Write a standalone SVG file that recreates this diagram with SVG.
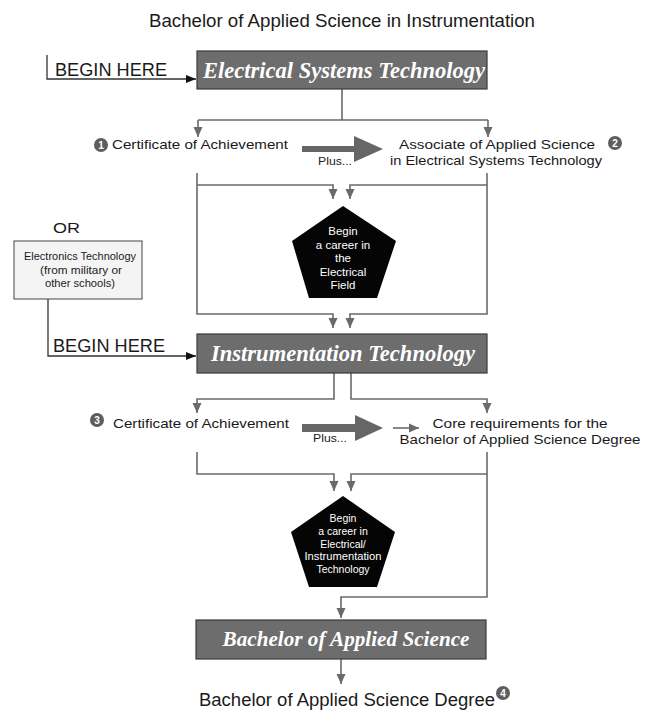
<svg xmlns="http://www.w3.org/2000/svg" width="648" height="710" viewBox="0 0 648 710">
<style>
.t{font-family:"Liberation Sans",Arial,sans-serif;fill:#1a1a1a}
.bx{fill:#6d6d6d;stroke:#3a3a3a;stroke-width:1.2}
.bt{font-family:"Liberation Serif","Times New Roman",serif;font-style:italic;font-weight:bold;fill:#fff}
.pg{fill:#050505}
.pt{font-family:"Liberation Sans",Arial,sans-serif;fill:#fff;font-size:11.5px;text-anchor:middle}
.pt2{font-family:"Liberation Sans",Arial,sans-serif;fill:#fff;font-size:10.5px;text-anchor:middle}
.ln{fill:none;stroke:#6a6a6a;stroke-width:1.6}
.lk{fill:none;stroke:#333;stroke-width:1.3}
.num{fill:#5e5e5e}
.nt{font-family:"Liberation Sans",Arial,sans-serif;font-weight:bold;font-size:10px;fill:#fff;text-anchor:middle}
.big{fill:#666}
</style>
<defs>
<marker id="ag" markerUnits="userSpaceOnUse" markerWidth="12" markerHeight="12" viewBox="0 0 12 12" refX="11" refY="6" orient="auto">
<path d="M1,1.5 L11,6 L1,10.5 Z" fill="#6a6a6a"/>
</marker>
<marker id="ak" markerUnits="userSpaceOnUse" markerWidth="12" markerHeight="12" viewBox="0 0 12 12" refX="11" refY="6" orient="auto">
<path d="M1,2 L11,6 L1,10 Z" fill="#111"/>
</marker>
</defs>

<text class="t" x="342" y="27" font-size="17.5" text-anchor="middle" textLength="386" lengthAdjust="spacingAndGlyphs">Bachelor of Applied Science in Instrumentation</text>

<g id="connectors">
<path class="lk" d="M47,55 V79 H196" marker-end="url(#ak)"/>
<path class="ln" d="M342,89 V120"/>
<path class="ln" d="M198,120 H488"/>
<path class="ln" d="M198,120 V137" marker-end="url(#ag)"/>
<path class="ln" d="M488,120 V137" marker-end="url(#ag)"/>
<path class="ln" d="M197,173 V314 H333 V328" marker-end="url(#ag)"/>
<path class="ln" d="M197,185 H333 V199" marker-end="url(#ag)"/>
<path class="ln" d="M487,173 V314 H350 V328" marker-end="url(#ag)"/>
<path class="ln" d="M487,185 H350 V199" marker-end="url(#ag)"/>
<path class="lk" d="M48,299 V356 H196" marker-end="url(#ak)"/>
<path class="ln" d="M334,373 V399 H197 V413" marker-end="url(#ag)"/>
<path class="ln" d="M351,373 V399 H487 V413" marker-end="url(#ag)"/>
<path class="ln" d="M393,428 H419" marker-end="url(#ag)"/>
<path class="ln" d="M197,452 V474 H334 V491" marker-end="url(#ag)"/>
<path class="ln" d="M487,452 V597 H341 V618" marker-end="url(#ag)"/>
<path class="ln" d="M487,474 H351 V491" marker-end="url(#ag)"/>
<path class="ln" d="M341,659 V684" marker-end="url(#ag)"/>
<path class="big" d="M302,146 H354 V136 L383,149 L354,162 V152 H302 Z"/>
<path class="big" d="M302,424 H355 V415 L383,428 L355,441 V432 H302 Z"/>
</g>

<g id="begin1">
<text class="t" x="55" y="76" font-size="17.5" textLength="112" lengthAdjust="spacingAndGlyphs">BEGIN HERE</text>
</g>

<g id="est">
<rect class="bx" x="197" y="51" width="290" height="38"/>
<text class="bt" x="203" y="78" font-size="23" textLength="282" lengthAdjust="spacingAndGlyphs">Electrical Systems Technology</text>
</g>

<g id="cert1">
<circle class="num" cx="101" cy="145" r="7"/>
<text class="nt" x="101" y="148.5">1</text>
<text class="t" x="112" y="149" font-size="13" textLength="176" lengthAdjust="spacingAndGlyphs">Certificate of Achievement</text>
<text class="t" x="318" y="165" font-size="11" textLength="34" lengthAdjust="spacingAndGlyphs">Plus...</text>
</g>

<g id="aas">
<text class="t" x="497" y="149" font-size="13" text-anchor="middle" textLength="196" lengthAdjust="spacingAndGlyphs">Associate of Applied Science</text>
<text class="t" x="496" y="165" font-size="13" text-anchor="middle" textLength="212" lengthAdjust="spacingAndGlyphs">in Electrical Systems Technology</text>
<circle class="num" cx="615" cy="143" r="7"/>
<text class="nt" x="615" y="146.5">2</text>
</g>

<g id="career1">
<polygon class="pg" points="343,206 396,241 377,298 309,298 292,241"/>
<text class="pt" x="343" y="235">Begin</text>
<text class="pt" x="343" y="248.5">a career in</text>
<text class="pt" x="343" y="262">the</text>
<text class="pt" x="343" y="275.5">Electrical</text>
<text class="pt" x="343" y="289">Field</text>
</g>

<g id="or">
<text class="t" x="53" y="233" font-size="15" textLength="27" lengthAdjust="spacingAndGlyphs">OR</text>
<rect x="14" y="241" width="128" height="58" fill="#f4f4f4" stroke="#444" stroke-width="1"/>
<text class="t" x="80" y="260" font-size="10.5" text-anchor="middle" textLength="112" lengthAdjust="spacingAndGlyphs">Electronics Technology</text>
<text class="t" x="81" y="273.5" font-size="10.5" text-anchor="middle" textLength="82" lengthAdjust="spacingAndGlyphs">(from military or</text>
<text class="t" x="80" y="287" font-size="10.5" text-anchor="middle" textLength="70" lengthAdjust="spacingAndGlyphs">other schools)</text>
</g>

<g id="begin2">
<text class="t" x="53" y="352" font-size="17.5" textLength="112" lengthAdjust="spacingAndGlyphs">BEGIN HERE</text>
</g>

<g id="inst">
<rect class="bx" x="197" y="334" width="290" height="39"/>
<text class="bt" x="211" y="361" font-size="23" textLength="264" lengthAdjust="spacingAndGlyphs">Instrumentation Technology</text>
</g>

<g id="cert3">
<circle class="num" cx="97" cy="420" r="7"/>
<text class="nt" x="97" y="423.5">3</text>
<text class="t" x="113" y="428" font-size="13" textLength="176" lengthAdjust="spacingAndGlyphs">Certificate of Achievement</text>
<text class="t" x="313" y="442" font-size="11" textLength="34" lengthAdjust="spacingAndGlyphs">Plus...</text>
</g>

<g id="core">
<text class="t" x="520" y="428" font-size="13" text-anchor="middle" textLength="175" lengthAdjust="spacingAndGlyphs">Core requirements for the</text>
<text class="t" x="520" y="444" font-size="13" text-anchor="middle" textLength="241" lengthAdjust="spacingAndGlyphs">Bachelor of Applied Science Degree</text>
</g>

<g id="career2">
<polygon class="pg" points="343,496 395,532 377,587 309,587 291,532"/>
<text class="pt2" x="343" y="522">Begin</text>
<text class="pt2" x="343" y="535">a career in</text>
<text class="pt2" x="343" y="547.5">Electrical/</text>
<text class="pt2" x="343" y="560" textLength="77" lengthAdjust="spacingAndGlyphs">Instrumentation</text>
<text class="pt2" x="343" y="573">Technology</text>
</g>

<g id="bas">
<rect class="bx" x="196" y="620" width="290" height="39"/>
<text class="bt" x="346" y="646" font-size="21" text-anchor="middle" textLength="247" lengthAdjust="spacingAndGlyphs">Bachelor of Applied Science</text>
</g>

<g id="degree">
<text class="t" x="199" y="706" font-size="17.5" textLength="296" lengthAdjust="spacingAndGlyphs">Bachelor of Applied Science Degree</text>
<circle class="num" cx="503" cy="693" r="7"/>
<text class="nt" x="503" y="696.5">4</text>
</g>
</svg>
